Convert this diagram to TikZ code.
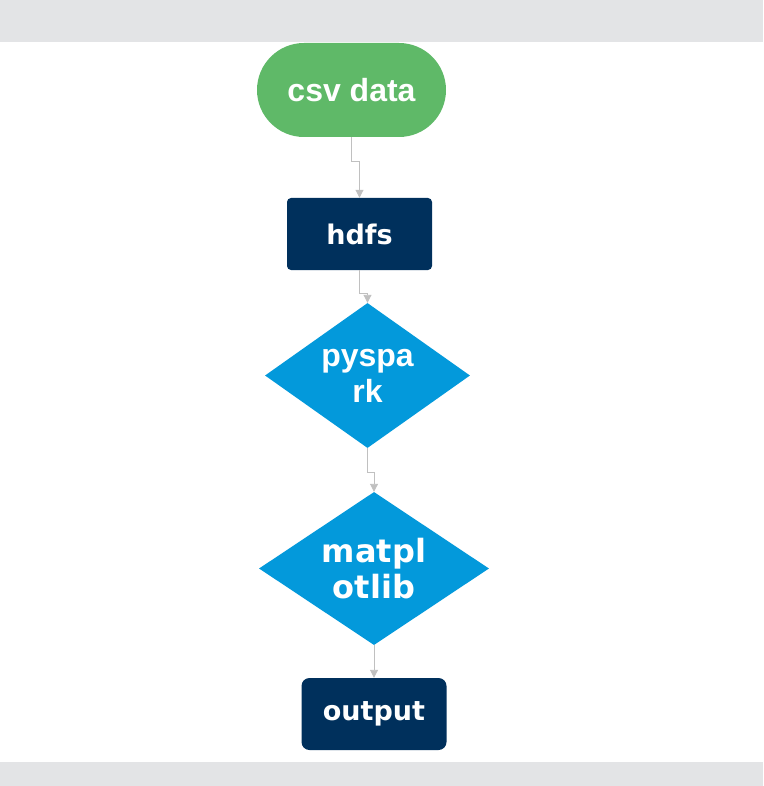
\documentclass[tikz,border=0pt]{standalone}
\usepackage{fontspec}
\setmainfont{Liberation Sans}
\newfontfamily\dejavu{DejaVu Sans}
\usetikzlibrary{arrows.meta,shapes.geometric}
\definecolor{srcgreen}{HTML}{5FB968}
\definecolor{storenavy}{HTML}{00305C}
\definecolor{procblue}{HTML}{0399DB}
\definecolor{bandgray}{HTML}{E3E4E6}
\definecolor{linkgray}{HTML}{C0C0C0}

\begin{document}
\begin{tikzpicture}[x=1pt,y=-1pt,
    source/.style={rectangle,rounded corners=47pt,fill=srcgreen,text=white,
      minimum width=189pt,minimum height=94pt,font=\fontsize{32}{38}\selectfont\bfseries},
    store/.style={rectangle,rounded corners=4pt,fill=storenavy,text=white,
      minimum width=145pt,minimum height=72pt,font=\dejavu\fontsize{27}{32}\selectfont\bfseries},
    process/.style={diamond,fill=procblue,text=white,inner sep=0pt,align=center},
    flow/.style={draw=linkgray,line width=0.9pt,-{Triangle[length=8pt,width=8pt]}}]
    \useasboundingbox (0,0) rectangle (763,786);

    % Bands
    \fill[bandgray] (0,0) rectangle (763,42);
    \fill[bandgray] (0,762) rectangle (763,786);

    % Source
    \node[source] (csv) at (351.5,90) {csv data};

    % Storage
    \node[store] (hdfs) at (359.5,234) {hdfs};

    % Processing
    \node[process,aspect=1.4,minimum width=205pt,minimum height=145pt,
      font=\fontsize{32}{36}\selectfont\bfseries] (spark) at (367.5,375.5) {pyspa\\rk};
    \node[process,aspect=1.5,minimum width=230pt,minimum height=153pt,
      font=\dejavu\fontsize{32}{36}\selectfont\bfseries] (plot) at (374,568.5) {matpl\\otlib};

    % Result
    \node[store,rounded corners=8pt] (out) at (374,714) {output};

    % Arrows
    \draw[flow] (csv.south) -- ++(0,24) -| (hdfs.north);
    \draw[flow] (hdfs.south) -- ++(0,23) -| (spark.north);
    \draw[flow] (spark.south) -- ++(0,24) -| (plot.north);
    \draw[flow] (plot.south) -- (out.north);
\end{tikzpicture}
\end{document}
